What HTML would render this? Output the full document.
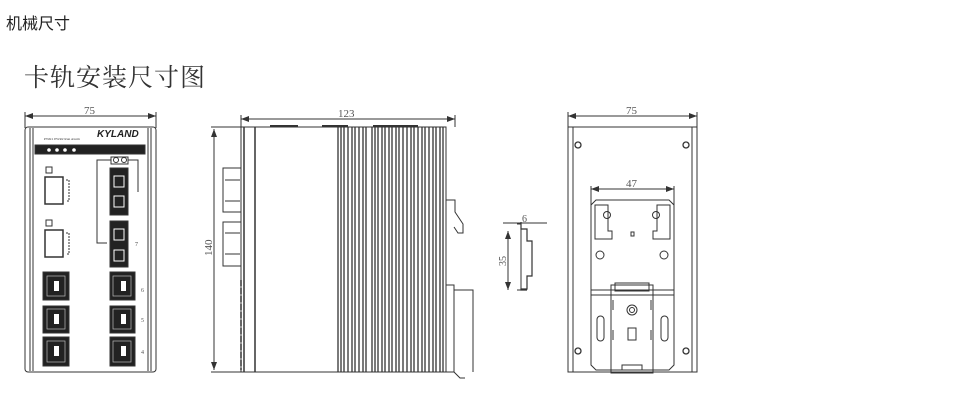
<!DOCTYPE html>
<html><head><meta charset="utf-8"><style>
body{margin:0;background:#fff;width:968px;height:419px;overflow:hidden;position:relative;font-family:"Liberation Sans","Noto Sans CJK SC",sans-serif}
.t1{position:absolute;left:6px;top:10px;font-size:16px;color:#222}
.t2{position:absolute;left:24px;top:58px;font-size:25px;color:#333;letter-spacing:1px;font-family:"Liberation Serif","Noto Serif CJK SC",serif}
svg{position:absolute;left:0;top:0}
</style></head><body>
<div class="t1">机械尺寸</div>
<div class="t2">卡轨安装尺寸图</div>
<svg width="968" height="419" viewBox="0 0 968 419" fill="none" stroke="#333" stroke-width="1" font-family="Liberation Serif, serif">
<defs><marker id="a" markerWidth="8" markerHeight="6" refX="8" refY="3" orient="auto-start-reverse"><path d="M0,0L8,3L0,6z" fill="#333" stroke="none"/></marker></defs>
<!-- FRONT -->
<line x1="25" y1="116" x2="156" y2="116" marker-start="url(#a)" marker-end="url(#a)"/>
<line x1="25" y1="112" x2="25" y2="128"/><line x1="156" y1="112" x2="156" y2="128"/>
<text x="84" y="114" font-size="11" fill="#555" stroke="none">75</text>
<rect x="25" y="127" width="131" height="245" rx="3"/>
<line x1="33" y1="128" x2="33" y2="371"/><line x1="148" y1="128" x2="148" y2="371"/>
<line x1="30" y1="128" x2="30" y2="371"/><line x1="151" y1="128" x2="151" y2="371"/>
<rect x="35" y="145" width="110" height="9" fill="#222"/>
<circle cx="49" cy="150" r="1.8" fill="#fff" stroke="none"/><circle cx="57" cy="150" r="1.8" fill="#fff" stroke="none"/><circle cx="65" cy="150" r="1.8" fill="#fff" stroke="none"/><circle cx="74" cy="150" r="1.8" fill="#fff" stroke="none"/>
<text x="97" y="137" font-size="10" font-style="italic" font-weight="bold" fill="#222" stroke="none" font-family="Liberation Sans,sans-serif">KYLAND</text>
<text x="44" y="140" font-size="3.5" fill="#333" stroke="none">PWR1 PWR2 Run Alarm</text>
<rect x="46" y="167" width="6" height="6"/><rect x="45" y="177" width="18" height="27" stroke-width="1.5"/>
<path d="M66 180h3v21h-3" stroke-dasharray="2,1"/>
<rect x="46" y="220" width="6" height="6"/><rect x="45" y="230" width="18" height="27" stroke-width="1.5"/>
<path d="M66 233h3v21h-3" stroke-dasharray="2,1"/>
<rect x="111" y="157" width="17" height="7"/><circle cx="116" cy="160" r="2.5"/><circle cx="124" cy="160" r="2.5"/>
<path d="M111 160h-14v83h10M128 160h10v32"/>
<rect x="110" y="168" width="18" height="47" fill="#222"/><rect x="110" y="221" width="18" height="46" fill="#222"/>
<rect x="114" y="176" width="10" height="11" stroke="#fff"/><rect x="114" y="196" width="10" height="11" stroke="#fff"/>
<rect x="114" y="229" width="10" height="11" stroke="#fff"/><rect x="114" y="250" width="10" height="11" stroke="#fff"/>
<text x="135" y="246" font-size="6" fill="#444" stroke="none">7</text>
<g fill="#222">
<rect x="43" y="272" width="26" height="28"/><rect x="43" y="306" width="26" height="27"/><rect x="43" y="337" width="26" height="29"/>
<rect x="110" y="272" width="25" height="28"/><rect x="110" y="306" width="25" height="27"/><rect x="110" y="337" width="25" height="29"/>
</g>
<g stroke="#bbb" stroke-width="0.7">
<rect x="47" y="276" width="18" height="20"/><rect x="47" y="309" width="18" height="20"/><rect x="47" y="341" width="18" height="21"/>
<rect x="113" y="276" width="18" height="20"/><rect x="113" y="309" width="18" height="20"/><rect x="113" y="341" width="18" height="21"/>
</g>
<g fill="#fff" stroke="none">
<rect x="54" y="281" width="5" height="10"/><rect x="54" y="314" width="5" height="10"/><rect x="54" y="346" width="5" height="10"/>
<rect x="121" y="281" width="5" height="10"/><rect x="121" y="314" width="5" height="10"/><rect x="121" y="346" width="5" height="10"/>
</g>
<g fill="#555" stroke="none" font-size="6"><text x="141" y="292">6</text><text x="141" y="322">5</text><text x="141" y="354">4</text></g>
<!-- SIDE -->
<line x1="241" y1="119" x2="455" y2="119" marker-start="url(#a)" marker-end="url(#a)"/>
<line x1="241" y1="115" x2="241" y2="127"/><line x1="455" y1="115" x2="455" y2="127"/>
<text x="338" y="117" font-size="11" fill="#555" stroke="none">123</text>
<line x1="214" y1="129" x2="214" y2="370" marker-start="url(#a)" marker-end="url(#a)"/>
<line x1="211" y1="127" x2="241" y2="127"/><line x1="211" y1="372" x2="241" y2="372"/>
<text x="212" y="256" font-size="11" fill="#555" stroke="none" transform="rotate(-90 212 256)">140</text>
<rect x="241" y="127" width="205" height="245"/>
<line x1="244" y1="127" x2="244" y2="372" stroke-width="1.5"/><line x1="255" y1="127" x2="255" y2="372" stroke-width="1.5"/>
<line x1="270" y1="126" x2="298" y2="126" stroke-width="2"/><line x1="322" y1="126" x2="348" y2="126" stroke-width="2"/><line x1="373" y1="126" x2="418" y2="126" stroke-width="2"/>
<g stroke-width="1.3">
<path d="M338 127V372M341 127V372M344 127V372M348 127V372M352 127V372M355 127V372M359 127V372M363 127V372M366 127V372M372 127V372M375 127V372M378 127V372M382 127V372M385 127V372M389 127V372M392 127V372M396 127V372M399 127V372M403 127V372M407 127V372M411 127V372M414 127V372M418 127V372M422 127V372M425 127V372M429 127V372M433 127V372M436 127V372M440 127V372M443 127V372"/>
</g>
<rect x="223" y="168" width="18" height="44"/><rect x="223" y="222" width="18" height="44"/>
<path d="M225 180h15M225 201h15M225 233h15M225 254h15"/>
<path d="M241 280v90" stroke-dasharray="6,2" stroke-width="1.5"/>
<path d="M446 200h9v12l8 12v9h-5l-4-6"/>
<rect x="446" y="285" width="8" height="87"/>
<path d="M454 290h19v82M454 372l6 6h5"/>
<!-- RAIL -->
<path d="M521 222v7h6v12h5v35h-5v13h-6v1h6" stroke-width="1.2"/>
<path d="M517 224h4v66h-4"/>
<line x1="508" y1="231" x2="508" y2="290" marker-start="url(#a)" marker-end="url(#a)"/>
<line x1="503" y1="223" x2="547" y2="223"/>
<text x="522" y="222" font-size="10" fill="#555" stroke="none">6</text>
<text x="506" y="266" font-size="10" fill="#555" stroke="none" transform="rotate(-90 506 266)">35</text>
<!-- REAR -->
<line x1="568" y1="116" x2="697" y2="116" marker-start="url(#a)" marker-end="url(#a)"/>
<line x1="568" y1="112" x2="568" y2="127"/><line x1="697" y1="112" x2="697" y2="127"/>
<text x="626" y="114" font-size="11" fill="#555" stroke="none">75</text>
<rect x="568" y="127" width="129" height="245"/>
<line x1="573" y1="127" x2="573" y2="372"/><line x1="692" y1="127" x2="692" y2="372"/>
<g stroke-width="1.3"><circle cx="578" cy="145" r="3"/><circle cx="686" cy="145" r="3"/><circle cx="578" cy="351" r="3"/><circle cx="686" cy="351" r="3"/></g>
<line x1="591" y1="189" x2="674" y2="189" marker-start="url(#a)" marker-end="url(#a)"/>
<line x1="591" y1="186" x2="591" y2="290"/><line x1="674" y1="186" x2="674" y2="290"/>
<text x="626" y="187" font-size="11" fill="#555" stroke="none">47</text>
<path d="M596 200h73l5 5v160l-5 5h-73l-5-5v-160z"/>
<path d="M595 205h13v26h4v8h-17z M670 205h-13v26h-4v8h17z"/>
<circle cx="607" cy="215" r="3.5"/><circle cx="656" cy="215" r="3.5"/>
<rect x="631" y="232" width="3" height="4"/>
<circle cx="600" cy="255" r="4"/><circle cx="664" cy="255" r="4"/>
<path d="M591 290h83M591 295h83"/>
<rect x="611" y="285" width="42" height="88"/><rect x="615" y="283" width="34" height="8"/>
<circle cx="632" cy="310" r="5"/><circle cx="632" cy="310" r="2.5"/>
<rect x="628" y="328" width="8" height="12"/>
<rect x="622" y="365" width="20" height="5"/>
<rect x="597" y="316" width="7" height="25" rx="3.5"/><rect x="661" y="316" width="7" height="25" rx="3.5"/>
<path d="M613 300v10M613 330v10M651 300v10M651 330v10"/>
</g>
</svg>
</body></html>
